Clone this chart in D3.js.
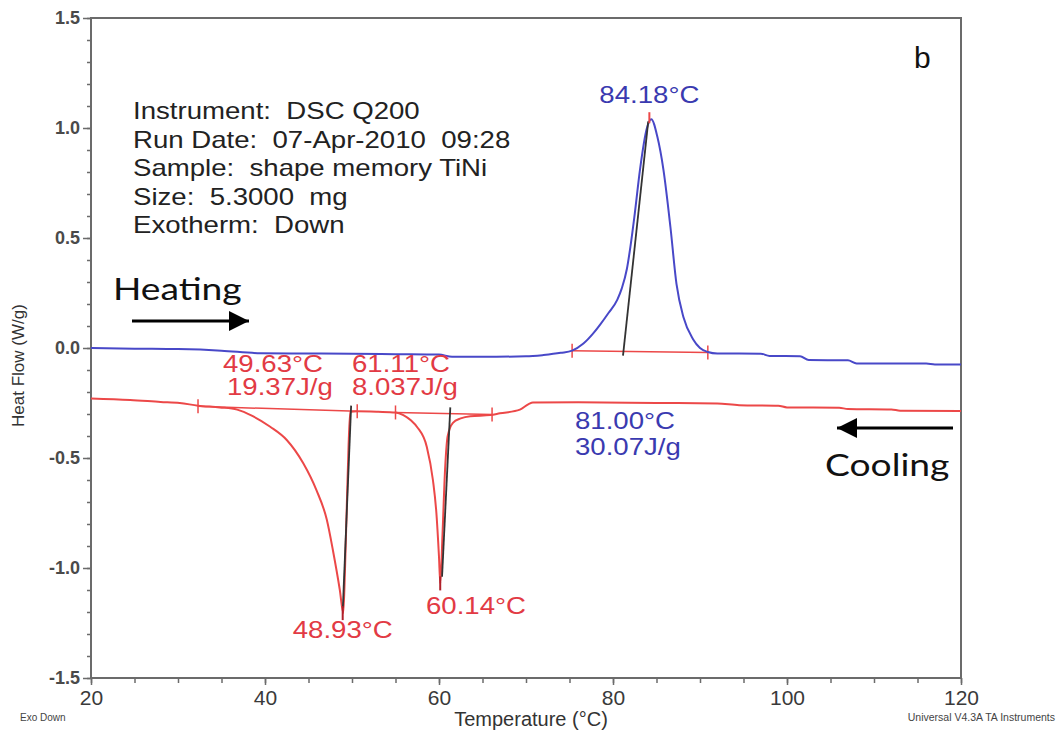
<!DOCTYPE html>
<html>
<head>
<meta charset="utf-8">
<title>DSC Q200 - shape memory TiNi</title>
<script src="https://d3js.org/d3.v7.min.js"></script>
<style>
  body { margin: 0; background: #fff; }
  svg { display: block; }
  text { white-space: pre; }
</style>
</head>
<body>
<svg></svg>
<script>

// ---- data ----
// heating run (blue), temperature in C, heat flow in W/g
var heatT  = [20, 25, 30, 35, 39.5, 45, 50, 55, 60, 61.5, 65, 70, 72, 74, 75.3, 76.6, 77.7, 78.5, 79.5, 80.5, 81.0, 81.6, 82.0, 82.5, 83.1, 83.9, 84.4, 85.1, 85.8, 86.6, 87.3, 88.1, 89.2, 90.0, 90.9, 92, 97, 98, 101.5, 102.5, 107, 108, 116, 117, 120];
var heatHF = [0.0, -0.003, -0.005, -0.012, -0.024, -0.025, -0.026, -0.028, -0.030, -0.04, -0.04, -0.038, -0.032, -0.022, -0.012, 0.02, 0.065, 0.105, 0.16, 0.22, 0.27, 0.36, 0.46, 0.61, 0.81, 1.0, 1.04, 0.96, 0.81, 0.55, 0.29, 0.14, 0.04, 0.0, -0.018, -0.025, -0.026, -0.036, -0.037, -0.055, -0.056, -0.07, -0.071, -0.075, -0.075];

// cooling run (red)
var coolT  = [20, 24.5, 28, 30.2, 32.3, 34.8, 36.8, 38.6, 40.6, 42.5, 44.4, 45.9, 47.1, 47.8, 48.6, 49.0, 49.2, 49.4, 49.6, 49.8, 50.6, 53, 55, 55.9, 56.8, 57.5, 58.6, 59.3, 59.7, 60.0, 60.15, 60.4, 60.7, 61.0, 61.6, 62.5, 63.6, 65.9, 67, 69.3, 70.3, 70.8, 76, 85, 92, 94.5, 99, 100, 106, 107, 112, 113, 120];
var coolHF = [-0.229, -0.236, -0.245, -0.25, -0.262, -0.27, -0.28, -0.31, -0.358, -0.418, -0.524, -0.645, -0.78, -0.918, -1.10, -1.205, -1.0, -0.72, -0.45, -0.29, -0.288, -0.29, -0.293, -0.305, -0.33, -0.36, -0.45, -0.6, -0.75, -0.95, -1.07, -0.85, -0.55, -0.40, -0.34, -0.32, -0.31, -0.305, -0.297, -0.28, -0.255, -0.248, -0.247, -0.25, -0.252, -0.26, -0.262, -0.27, -0.272, -0.277, -0.279, -0.285, -0.286];

// integration baselines [T, HF] start/end
var baselines = [
  [[75.3, -0.012], [90.9, -0.021]],
  [[32.3, -0.265], [50.6, -0.288]],
  [[55.0, -0.293], [66.1, -0.302]]
];
// onset tangent lines
var onsets = [
  [[81.15, -0.035], [84.05, 1.03]],
  [[49.9, -0.262], [48.95, -1.18]],
  [[61.3, -0.27], [60.35, -1.04]]
];
// peak markers
var peaks = [[84.18, 1.04], [48.93, -1.205], [60.14, -1.07]];

var xTicks = [20, 40, 60, 80, 100, 120];
var yTicks = [-1.5, -1.0, -0.5, 0.0, 0.5, 1.0, 1.5];

var infoLines = ["Instrument:  DSC Q200", "Run Date:  07-Apr-2010  09:28", "Sample:  shape memory TiNi", "Size:  5.3000  mg", "Exotherm:  Down"];

// ---- layout ----
var width = 1062, height = 735;
var mLeft = 91, mRight = 961, mTop = 18, mBottom = 678;

var svg = d3.select('svg').attr('width', width).attr('height', height)
  .style('font-family', 'Liberation Sans, Arial, sans-serif');

var x = d3.scaleLinear().domain([20, 120]).range([mLeft, mRight]);
var y = d3.scaleLinear().domain([-1.5, 1.5]).range([mBottom, mTop]);

var axisColor = '#6b6b6b';
var blue = '#4848c8', red = '#ec4848';
var blueText = '#3a3ab0', redText = '#e23a44';

// frame
svg.append('rect')
  .attr('x', mLeft).attr('y', mTop)
  .attr('width', mRight - mLeft).attr('height', mBottom - mTop)
  .attr('fill', 'none').attr('stroke', axisColor).attr('stroke-width', 2);

// x axis, major + minor
svg.append('g').attr('transform', 'translate(0,' + mBottom + ')')
  .call(d3.axisBottom(x).tickValues(d3.range(20, 121, 5)).tickSize(5).tickFormat(''));
var xAxis = svg.append('g').attr('transform', 'translate(0,' + mBottom + ')')
  .call(d3.axisBottom(x).tickValues(xTicks).tickSize(7).tickPadding(5).tickFormat(d3.format('d')));

svg.append('g').attr('transform', 'translate(' + mLeft + ',0)')
  .call(d3.axisLeft(y).tickValues(d3.range(-15, 16, 1).map(function(d) { return d / 10; })).tickSize(4).tickFormat(''));
var yAxis = svg.append('g').attr('transform', 'translate(' + mLeft + ',0)')
  .call(d3.axisLeft(y).tickValues(yTicks).tickSize(8).tickPadding(3).tickFormat(d3.format('.1f')));

svg.selectAll('.domain').remove();
svg.selectAll('.tick line').attr('stroke', axisColor).attr('stroke-width', 1.5);

xAxis.selectAll('text')
  .attr('font-size', 21).attr('fill', '#3a3a3a')
  .attr('font-family', 'Liberation Sans, Arial, sans-serif');
yAxis.selectAll('text')
  .attr('font-size', 18).attr('font-weight', 'bold').attr('fill', '#4a4a4a')
  .attr('font-family', 'Liberation Sans, Arial, sans-serif')
  .text(function(d) { return d3.format('.1f')(d).replace('\u2212', '-'); });

// axis titles
svg.append('text')
  .attr('x', (mLeft + mRight) / 2 + 5).attr('y', 726)
  .attr('text-anchor', 'middle').attr('font-size', 20).attr('fill', '#333')
  .text('Temperature (\u00B0C)');

svg.append('text')
  .attr('transform', 'translate(24,' + y(-0.08) + ') rotate(-90)')
  .attr('text-anchor', 'middle').attr('font-size', 17).attr('fill', '#333')
  .text('Heat Flow (W/g)');

svg.append('text').attr('x', 20).attr('y', 721).attr('font-size', 10).attr('fill', '#444').text('Exo Down');
svg.append('text').attr('x', 1055).attr('y', 721).attr('text-anchor', 'end').attr('font-size', 10.5).attr('fill', '#444')
  .text('Universal V4.3A TA Instruments');

// curves
var line = d3.line()
  .x(function(d) { return x(d[0]); })
  .y(function(d) { return y(d[1]); })
  .curve(d3.curveMonotoneX);
var straight = d3.line()
  .x(function(d) { return x(d[0]); })
  .y(function(d) { return y(d[1]); });

var heat = heatT.map(function(t, i) { return [t, heatHF[i]]; });
var cool = coolT.map(function(t, i) { return [t, coolHF[i]]; });

// baselines (red) with end ticks
baselines.forEach(function(b) {
  svg.append('path').attr('d', straight(b))
    .attr('fill', 'none').attr('stroke', red).attr('stroke-width', 1.5);
  b.forEach(function(p) {
    svg.append('line')
      .attr('x1', x(p[0])).attr('x2', x(p[0]))
      .attr('y1', y(p[1]) - 7).attr('y2', y(p[1]) + 7)
      .attr('stroke', red).attr('stroke-width', 1.5);
  });
});

svg.append('path').datum(heat).attr('d', line)
  .attr('fill', 'none').attr('stroke', blue).attr('stroke-width', 2);
svg.append('path').datum(cool).attr('d', line)
  .attr('fill', 'none').attr('stroke', red).attr('stroke-width', 2);

// onset tangents
onsets.forEach(function(o) {
  svg.append('path').attr('d', straight(o))
    .attr('fill', 'none').attr('stroke', '#333').attr('stroke-width', 1.8);
});

// peak markers
peaks.forEach(function(p, i) {
  svg.append('line')
    .attr('x1', x(p[0])).attr('x2', x(p[0]))
    .attr('y1', y(p[1]) - 7).attr('y2', y(p[1]) + (i == 0 ? 4 : 7))
    .attr('stroke', i == 0 ? red : '#b0202a').attr('stroke-width', 2);
});

// stretched annotation text helper
function label(px, py, str, color, anchor) {
  svg.append('text')
    .attr('transform', 'translate(' + px + ',' + py + ') scale(1.2,1)')
    .attr('text-anchor', anchor || 'start')
    .attr('font-size', 23).attr('fill', color)
    .text(str);
}

// instrument info
infoLines.forEach(function(s, i) {
  label(133, 119 + i * 28.5, s, '#222');
});

// peak labels
label(x(84.18), 103, '84.18\u00B0C', blueText, 'middle');
label(575, 429, '81.00\u00B0C', blueText);
label(575, 455, '30.07J/g', blueText);

label(223, 372, '49.63\u00B0C', redText);
label(227, 395, '19.37J/g', redText);
label(352, 372, '61.11\u00B0C', redText);
label(352, 395, '8.037J/g', redText);
label(x(48.93), 638, '48.93\u00B0C', redText, 'middle');
label(476, 614, '60.14\u00B0C', redText, 'middle');

// panel letter
svg.append('text').attr('x', 914).attr('y', 68).attr('font-size', 30).attr('fill', '#111').text('b');

// heating / cooling arrows
svg.append('defs').append('marker')
  .attr('id', 'head').attr('viewBox', '0 0 10 10')
  .attr('refX', 10).attr('refY', 5)
  .attr('markerWidth', 24).attr('markerHeight', 20)
  .attr('markerUnits', 'userSpaceOnUse')
  .attr('orient', 'auto')
  .append('path').attr('d', 'M0,0 L10,5 L0,10 Z').attr('fill', '#000');

svg.append('line').attr('x1', 132).attr('y1', 321).attr('x2', 249).attr('y2', 321)
  .attr('stroke', '#000').attr('stroke-width', 3).attr('marker-end', 'url(#head)');
svg.append('line').attr('x1', 953).attr('y1', 428).attr('x2', 837).attr('y2', 428)
  .attr('stroke', '#000').attr('stroke-width', 3).attr('marker-end', 'url(#head)');

svg.append('text').attr('transform', 'translate(113,300) scale(1.2,1)')
  .attr('font-family', 'Lato, Open Sans, sans-serif').attr('font-size', 31).attr('fill', '#111')
  .text('Heating');
svg.append('text').attr('transform', 'translate(825,476) scale(1.2,1)')
  .attr('font-family', 'Lato, Open Sans, sans-serif').attr('font-size', 31).attr('fill', '#111')
  .text('Cooling');

</script>
</body>
</html>
